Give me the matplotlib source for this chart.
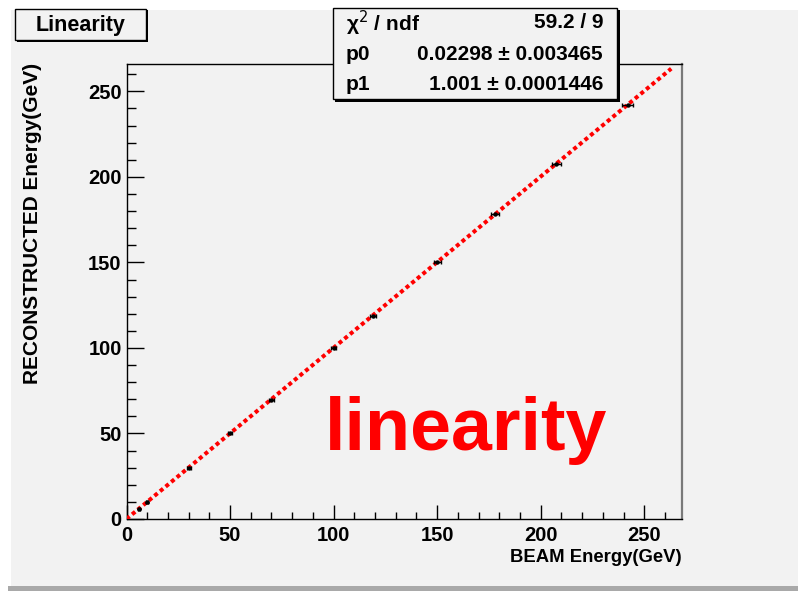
import numpy as np
import matplotlib
matplotlib.use('Agg')
import matplotlib.pyplot as plt
from matplotlib.patches import Rectangle
from matplotlib.ticker import MultipleLocator

# measured points (BEAM energy vs reconstructed energy)
beam_e = [6, 10, 30, 50, 70, 100, 119, 150, 178, 207.5, 242]
reco_e = [5.8, 9.7, 29.8, 50.1, 69.5, 100.2, 118.8, 150.1, 178.2, 207.6, 241.9]
beam_err = [0.4, 0.5, 0.9, 1.0, 1.2, 1.3, 1.4, 1.6, 2.0, 2.3, 2.6]
reco_err = [0.1, 0.1, 0.1, 0.1, 0.1, 0.1, 0.1, 0.1, 0.1, 0.1, 0.1]

# fit result pol1
p0, p0_err = 0.02298, 0.003465
p1, p1_err = 1.001, 0.0001446
chi2, ndf = 59.2, 9
fit_range = [0, 263]

W, H = 798, 591
BOLD = ['Liberation Sans', 'DejaVu Sans']
BG = '#f2f2f2'

fig = plt.figure(figsize=(W / 100, H / 100), dpi=100, facecolor='white')


def box(x0, y0, x1, y1, **kw):
    # rectangle given in pixel coords from the top-left corner
    r = Rectangle((x0 / W, 1 - y1 / H), (x1 - x0) / W, (y1 - y0) / H,
                  transform=fig.transFigure, **kw)
    fig.add_artist(r)
    return r


# canvas background and bottom bevel
box(11, 10, W, 586, facecolor=BG, edgecolor='none', zorder=0)
box(8, 586, W, H, facecolor='#a9a9a9', edgecolor='none', zorder=0)

ax = fig.add_axes([126.5 / W, 1 - 519 / H, (681.6 - 126.5) / W, (519 - 64) / H])
ax.set_facecolor(BG)
ax.set_xlim(0, 268)
ax.set_ylim(0, 266)

xf = np.array(fit_range, dtype=float)
ax.plot(xf, p0 + p1 * xf, color='#ff0000', lw=2.9, linestyle=(0, (1, 0.8)),
        dash_capstyle='butt', zorder=3)
ax.errorbar(beam_e, reco_e, xerr=beam_err, yerr=reco_err, fmt='o', ms=2.2,
            color='black', ecolor='black', elinewidth=1, capsize=1.5,
            capthick=1, zorder=4)

ax.xaxis.set_major_locator(MultipleLocator(50))
ax.xaxis.set_minor_locator(MultipleLocator(10))
ax.yaxis.set_major_locator(MultipleLocator(50))
ax.yaxis.set_minor_locator(MultipleLocator(10))
ax.tick_params(axis='both', which='both', direction='in', top=False, right=False,
               width=1, color='black')
ax.tick_params(axis='x', which='major', length=10, pad=5)
ax.tick_params(axis='x', which='minor', length=5)
ax.tick_params(axis='y', which='major', length=12, pad=3.5)
ax.tick_params(axis='y', which='minor', length=6.5)
for lab in ax.get_xticklabels() + ax.get_yticklabels():
    lab.set_family(BOLD)
    lab.set_weight('bold')
    lab.set_fontsize(14.5)

for s in ['left', 'bottom', 'top']:
    ax.spines[s].set_color('black')
    ax.spines[s].set_linewidth(1)
ax.spines['right'].set_color('#7a7a7a')
ax.spines['right'].set_linewidth(1.6)

# axis titles
fig.text(33 / W, 1 - 63 / H, 'RECONSTRUCTED Energy(GeV)', rotation=90,
         ha='center', va='top', fontsize=15, weight='bold', family=BOLD)
fig.text(682 / W, 1 - 557 / H, 'BEAM Energy(GeV)', ha='right', va='center',
         fontsize=13.3, weight='bold', family=BOLD)

# title box
box(16.5, 10.5, 147.5, 41.5, facecolor='black', edgecolor='none', zorder=5)
box(15, 9, 146, 40, facecolor=BG, edgecolor='black', lw=1, zorder=6)
fig.text(80.5 / W, 1 - 25 / H, 'Linearity', ha='center', va='center',
         fontsize=15.5, weight='bold', family=BOLD, zorder=7)

# stats box
box(335, 10, 619.5, 101.5, facecolor='black', edgecolor='none', zorder=5)
box(333, 8, 617, 99, facecolor=BG, edgecolor='black', lw=1, zorder=6)
rows = [('\u03c7$^{2}$ / ndf', '%.1f / %d' % (chi2, ndf)),
        ('p0', '%s \u00b1 %s' % (p0, p0_err)),
        ('p1', '%s \u00b1 %s' % (p1, p1_err))]
for (name, val), yc in zip(rows, [23, 55, 85]):
    fig.text(346 / W, 1 - yc / H, name, ha='left', va='center', fontsize=15,
             weight='bold', family=BOLD, zorder=7)
    fig.text(603 / W, 1 - yc / H, val, ha='right', va='center', fontsize=15,
             weight='bold', family=BOLD, zorder=7)

fig.text(466 / W, 1 - 450 / H, 'linearity', ha='center', va='baseline',
         fontsize=53, weight='bold', color='#ff0000', family=BOLD, zorder=7)

fig.savefig('out.png', dpi=100, facecolor='white')
